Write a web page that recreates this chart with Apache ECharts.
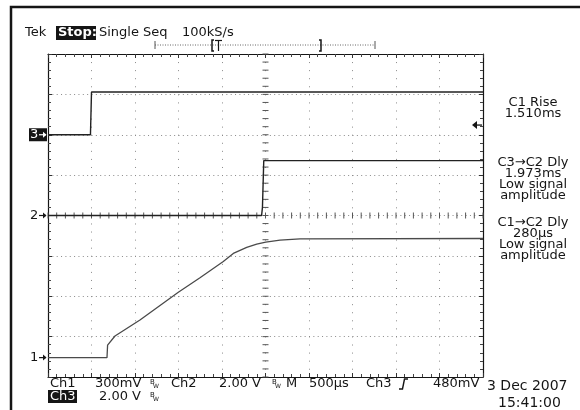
<!DOCTYPE html>
<html>
<head>
<meta charset="utf-8">
<script src="https://cdn.jsdelivr.net/npm/echarts@6/dist/echarts.min.js"></script>
<style>
  html, body { margin: 0; padding: 0; background: #fff; }
  #scope { width: 580px; height: 410px; }
</style>
</head>
<body>
<div id="scope"></div>
<script>
// Horizontal axis: time in ms relative to the trigger (500 µs/div, 10 div)
// Vertical axis: screen divisions (8 div, centre = 0)
const timeRange = [-2.5, 2.5];
const divRange = [-4, 4];

// Ch1 (300 mV/div): slow ramp
const ch1Time  = [-2.5, -1.822, -1.815, -1.73, -1.443, -1.002, -0.753, -0.485, -0.370, -0.216, -0.101, 0.003, 0.167, 0.397, 2.5];
const ch1Level = [-3.52, -3.52, -3.21, -2.985, -2.59, -1.90, -1.54, -1.14, -0.94, -0.79, -0.71, -0.66, -0.61, -0.58, -0.57];

// Ch2 (2.00 V/div): late step
const ch2Time  = [-2.5, -0.045, -0.035, -0.02, 2.5];
const ch2Level = [0, 0, 0.2, 1.36, 1.36];

// Ch3 (2.00 V/div): early step, trigger source
const ch3Time  = [-2.5, -2.012, -2.0, 2.5];
const ch3Level = [2.0, 2.0, 3.06, 3.06];

// Channel ground markers on the left edge and trigger level on the right edge
const channelNames  = ['1', '2', '3'];
const channelLevels = [-3.52, 0, 2.0];
const triggerLevel  = 2.24;

// Measurement readouts (right column)
const readoutBlocks = [
  ['C1 Rise', '1.510ms'],
  ['C3\u2192C2 Dly', '1.973ms', 'Low signal', 'amplitude'],
  ['C1\u2192C2 Dly', '280\u00b5s', 'Low signal', 'amplitude']
];
const readoutTops = [103, 163, 223];

const FONT = '"DejaVu Sans", sans-serif';
const INK = '#151515';

const pairs = (xs, ys) => xs.map((x, i) => [x, ys[i]]);

const chart = echarts.init(document.getElementById('scope'), null, { renderer: 'canvas' });

function edgeAxis(extra) {
  return Object.assign({
    type: 'value',
    gridIndex: 0,
    axisLine: { show: true, onZero: false, lineStyle: { color: INK, width: 1.2 } },
    axisTick: { show: true, inside: true, length: 4, lineStyle: { color: '#333' } },
    minorTick: { show: true, splitNumber: 5, length: 3, lineStyle: { color: '#444' } },
    axisLabel: { show: false },
    splitLine: { show: false }
  }, extra);
}

// Centre cross-hair ticks of the graticule
function renderCentreTicks(params, api) {
  const kids = [];
  for (let i = 0; i <= 50; i++) {
    const p = api.coord([timeRange[0] + i * 0.1, 0]);
    kids.push({ type: 'line', shape: { x1: p[0], y1: p[1] - 3, x2: p[0], y2: p[1] + 3 },
                style: { stroke: '#555', lineWidth: 1 } });
  }
  for (let j = 0; j <= 40; j++) {
    const p = api.coord([0, divRange[0] + j * 0.2]);
    kids.push({ type: 'line', shape: { x1: p[0] - 3, y1: p[1], x2: p[0] + 3, y2: p[1] },
                style: { stroke: '#555', lineWidth: 1 } });
  }
  return { type: 'group', children: kids };
}

// Ground markers "n→" at the left edge
function renderChannelMarker(params, api) {
  const p = api.coord([api.value(0), api.value(1)]);
  const name = channelNames[params.dataIndex];
  const inverted = name === '3';
  const kids = [];
  if (inverted) {
    kids.push({ type: 'rect', shape: { x: p[0] - 19, y: p[1] - 6.5, width: 18, height: 13 },
                style: { fill: INK } });
  }
  const col = inverted ? '#fff' : INK;
  kids.push({ type: 'text', style: { x: p[0] - 18, y: p[1], text: name, fill: col,
              font: '13px ' + FONT, verticalAlign: 'middle', align: 'left' } });
  kids.push({ type: 'line', shape: { x1: p[0] - 9, y1: p[1], x2: p[0] - 2, y2: p[1] },
              style: { stroke: col, lineWidth: 1.2 } });
  kids.push({ type: 'polygon', shape: { points: [[p[0] - 1.5, p[1]], [p[0] - 5, p[1] - 3], [p[0] - 5, p[1] + 3]] },
              style: { fill: col } });
  return { type: 'group', children: kids };
}

// Trigger level arrow "←" on the right edge
function renderTriggerArrow(params, api) {
  const p = api.coord([api.value(0), api.value(1)]);
  return { type: 'group', children: [
    { type: 'line', shape: { x1: p[0] - 9, y1: p[1], x2: p[0] - 1, y2: p[1] },
      style: { stroke: INK, lineWidth: 1.3 } },
    { type: 'polygon', shape: { points: [[p[0] - 11, p[1]], [p[0] - 6, p[1] - 4], [p[0] - 6, p[1] + 4]] },
      style: { fill: INK } }
  ] };
}

function txt(x, y, s, size, fill, weight) {
  return { type: 'text', style: { x: x, y: y, text: s, fill: fill || INK,
    font: (weight ? weight + ' ' : '') + size + 'px ' + FONT, verticalAlign: 'middle', align: 'left' } };
}

const graphics = [];
// Outer frame
graphics.push({ type: 'rect', shape: { x: 11, y: 7, width: 600, height: 430 },
                style: { fill: 'none', stroke: INK, lineWidth: 2.5 } });
// Header
graphics.push(txt(25, 33, 'Tek', 13));
graphics.push({ type: 'rect', shape: { x: 56, y: 26, width: 40, height: 14 }, style: { fill: INK } });
graphics.push(txt(58, 33, 'Stop:', 13, '#fff', 'bold'));
graphics.push(txt(99, 33, 'Single Seq', 13));
graphics.push(txt(182, 33, '100kS/s', 13));
// Record bracket
graphics.push({ type: 'line', shape: { x1: 155, y1: 45, x2: 375, y2: 45 },
                style: { stroke: '#666', lineWidth: 1, lineDash: [1, 1.5] } });
graphics.push({ type: 'line', shape: { x1: 155, y1: 41, x2: 155, y2: 49 }, style: { stroke: '#555', lineWidth: 1 } });
graphics.push({ type: 'line', shape: { x1: 375, y1: 41, x2: 375, y2: 49 }, style: { stroke: '#555', lineWidth: 1 } });
graphics.push({ type: 'polyline', shape: { points: [[214, 40], [212, 40], [212, 51], [214, 51]] },
                style: { stroke: INK, lineWidth: 1.5, fill: null } });
graphics.push({ type: 'polyline', shape: { points: [[319, 40], [321, 40], [321, 51], [319, 51]] },
                style: { stroke: INK, lineWidth: 1.5, fill: null } });
graphics.push({ type: 'line', shape: { x1: 215, y1: 40.5, x2: 222, y2: 40.5 }, style: { stroke: INK, lineWidth: 1.2 } });
graphics.push({ type: 'line', shape: { x1: 218.5, y1: 40, x2: 218.5, y2: 51 }, style: { stroke: INK, lineWidth: 1.2 } });

// Bottom readout
const row1 = 384, row2 = 397;
function bwMark(x, y) {
  graphics.push(txt(x, y - 2, 'B', 7));
  graphics.push(txt(x + 3, y + 2, 'W', 6));
}
graphics.push(txt(50, row1, 'Ch1', 13));
graphics.push(txt(95, row1, '300mV', 13));
bwMark(150, row1);
graphics.push(txt(171, row1, 'Ch2', 13));
graphics.push(txt(219, row1, '2.00 V', 13));
bwMark(272, row1);
graphics.push(txt(286, row1, 'M', 13));
graphics.push(txt(309, row1, '500\u00b5s', 13));
graphics.push(txt(366, row1, 'Ch3', 13));
graphics.push({ type: 'polyline', shape: { points: [[399, 389], [402.5, 389], [404.5, 379], [408, 379]] },
                style: { stroke: INK, lineWidth: 1.4, fill: null } });
graphics.push(txt(433, row1, '480mV', 13));
graphics.push(txt(487, row1 + 2, '3 Dec 2007', 14));
graphics.push({ type: 'rect', shape: { x: 48, y: 390, width: 29, height: 13 }, style: { fill: INK } });
graphics.push(txt(50, row2, 'Ch3', 13, '#fff'));
graphics.push(txt(99, row2, '2.00 V', 13));
bwMark(150, row2);
graphics.push(txt(498, row2 + 6, '15:41:00', 14));

// Measurement column
readoutBlocks.forEach((block, b) => {
  block.forEach((line, k) => {
    graphics.push({ type: 'text', style: { x: 533, y: readoutTops[b] + k * 10.8, text: line,
      fill: INK, font: '13px ' + FONT, align: 'center', verticalAlign: 'middle' } });
  });
});

chart.setOption({
  animation: false,
  backgroundColor: '#fff',
  grid: { left: 48, top: 54, width: 435, height: 323, show: false },
  xAxis: [
    edgeAxis({ min: timeRange[0], max: timeRange[1], interval: 0.5, position: 'bottom',
      splitLine: { show: true, lineStyle: { color: '#8a8a8a', width: 1, type: [1, 7.07] } } }),
    edgeAxis({ min: timeRange[0], max: timeRange[1], interval: 0.5, position: 'top' })
  ],
  yAxis: [
    edgeAxis({ min: divRange[0], max: divRange[1], interval: 1, position: 'left',
      splitLine: { show: true, lineStyle: { color: '#8a8a8a', width: 1, type: [1, 3.35] } } }),
    edgeAxis({ min: divRange[0], max: divRange[1], interval: 1, position: 'right' })
  ],
  series: [
    { type: 'custom', name: 'graticule', renderItem: renderCentreTicks, data: [[0, 0]],
      silent: true, z: 1, clip: false },
    { type: 'line', name: 'Ch3', data: pairs(ch3Time, ch3Level), showSymbol: false,
      lineStyle: { color: '#222', width: 1.4 }, z: 3 },
    { type: 'line', name: 'Ch2', data: pairs(ch2Time, ch2Level), showSymbol: false,
      lineStyle: { color: '#222', width: 1.4 }, z: 3 },
    { type: 'line', name: 'Ch1', data: pairs(ch1Time, ch1Level), showSymbol: false,
      lineStyle: { color: '#4a4a4a', width: 1.3 }, z: 3 },
    { type: 'custom', name: 'ground markers', renderItem: renderChannelMarker,
      data: channelLevels.map(v => [timeRange[0], v]), clip: false, z: 4 },
    { type: 'custom', name: 'trigger level', renderItem: renderTriggerArrow,
      data: [[timeRange[1], triggerLevel]], clip: false, z: 4 }
  ],
  graphic: graphics
});
</script>
</body>
</html>
